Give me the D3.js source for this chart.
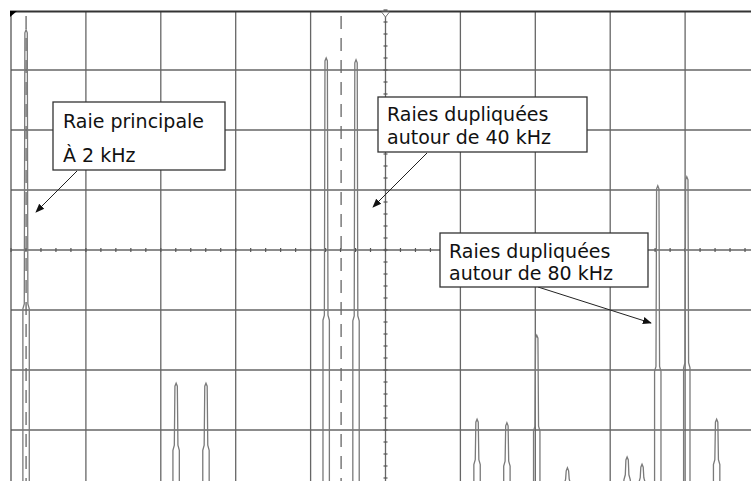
<!DOCTYPE html>
<html>
<head>
<meta charset="utf-8">
<script src="https://cdn.jsdelivr.net/npm/d3@7"></script>
<style>
  html, body { margin: 0; padding: 0; background: #fff; }
  svg { display: block; }
  text { font-family: "DejaVu Sans", Verdana, sans-serif; fill: #111; }
</style>
</head>
<body>
<svg id="svg" width="751" height="481"></svg>
<script>
// spectrum lines (frequency in kHz, amplitude in divisions)
var freqs = [2, 20.1, 23.7, 38.2, 41.8, 56.4, 60.0, 63.6, 67.3, 74.5, 76.3, 78.2, 81.7, 85.3];
var amps = [7.67, 1.78, 1.78, 7.2, 7.17, 1.18, 1.12, 2.58, 0.37, 0.55, 0.43, 5.07, 5.22, 1.18];

// dashed cursors (kHz)
var cursors = [2, 40];

// annotation texts
var noteTexts = [
  ["Raie principale", "À 2 kHz"],
  ["Raies dupliquées", "autour de 40 kHz"],
  ["Raies dupliquées", "autour de 80 kHz"]
];

var svg = d3.select("#svg");
var W = 751, H = 481;

// graticule: 10 x 8 divisions
var gx = d3.scaleLinear().domain([0, 10]).range([11, 760]);
var gy = d3.scaleLinear().domain([0, 8]).range([10, 490]);

// signal scales
var x = d3.scaleLinear().domain([0, 90]).range([9.5, 755.6]);
var y = d3.scaleLinear().domain([0, 8]).range([490, 10]);

var grid = svg.append("g").attr("stroke", "#666").attr("stroke-width", 1.3);

grid.selectAll(".vl")
  .data(d3.range(1, 10))
  .enter().append("line")
  .attr("class", "vl")
  .attr("x1", d => gx(d)).attr("x2", d => gx(d))
  .attr("y1", 11).attr("y2", H);

grid.selectAll(".hl")
  .data(d3.range(1, 8))
  .enter().append("line")
  .attr("class", "hl")
  .attr("x1", 11).attr("x2", W)
  .attr("y1", d => gy(d)).attr("y2", d => gy(d));

// left border
grid.append("line")
  .attr("x1", 11).attr("x2", 11).attr("y1", 11).attr("y2", H)
  .attr("stroke", "#555");

// minor ticks on the centre axes
var ticks = svg.append("g").attr("stroke", "#555").attr("stroke-width", 1.2);
ticks.selectAll(".tx")
  .data(d3.range(0, 50))
  .enter().append("line")
  .attr("x1", d => gx(d / 5)).attr("x2", d => gx(d / 5))
  .attr("y1", gy(4) - 2).attr("y2", gy(4) + 2);
ticks.selectAll(".ty")
  .data(d3.range(0, 40))
  .enter().append("line")
  .attr("y1", d => gy(d / 5)).attr("y2", d => gy(d / 5))
  .attr("x1", gx(5) - 2).attr("x2", gx(5) + 2);

// top border
svg.append("line")
  .attr("x1", 10).attr("x2", W).attr("y1", 11.5).attr("y2", 11.5)
  .attr("stroke", "#333").attr("stroke-width", 2);
svg.append("path")
  .attr("d", "M10,11 L17,11 L10,17 Z")
  .attr("fill", "#000");
svg.append("path")
  .attr("d", "M" + (gx(5) - 4) + ",12 L" + (gx(5) + 4) + ",12 L" + gx(5) + ",17 Z")
  .attr("fill", "#fff").attr("stroke", "#777");

// dashed cursors
svg.selectAll(".cursor")
  .data(cursors)
  .enter().append("line")
  .attr("class", "cursor")
  .attr("x1", d => x(d)).attr("x2", d => x(d))
  .attr("y1", 16).attr("y2", H)
  .attr("stroke", "#666").attr("stroke-width", 1.3)
  .attr("stroke-dasharray", "13,9");

// spectrum lines, drawn as narrow outlines
function peakPath(f, a) {
  var x0 = x(f), yt = y(a), yb = y(0) + 5;
  var ys = yt + 0.6 * (yb - yt);
  return "M" + (x0 - 3.2) + "," + yb +
    " L" + (x0 - 3.2) + "," + ys +
    " L" + (x0 - 1.8) + "," + (ys - 5) +
    " L" + (x0 - 1.2) + "," + (yt + 3) +
    " L" + x0 + "," + yt +
    " L" + (x0 + 1.2) + "," + (yt + 3) +
    " L" + (x0 + 1.8) + "," + (ys - 5) +
    " L" + (x0 + 3.2) + "," + ys +
    " L" + (x0 + 3.2) + "," + yb;
}

svg.append("g").selectAll("path")
  .data(freqs)
  .enter().append("path")
  .attr("d", (d, i) => peakPath(d, amps[i]))
  .attr("fill", "none")
  .attr("stroke", "#7a7a7a")
  .attr("stroke-width", 1.3);

// annotations
var defs = svg.append("defs");
defs.append("marker")
  .attr("id", "arrow")
  .attr("viewBox", "0 0 10 10")
  .attr("refX", 9).attr("refY", 5)
  .attr("markerWidth", 9).attr("markerHeight", 9)
  .attr("markerUnits", "userSpaceOnUse")
  .attr("orient", "auto")
  .append("path")
  .attr("d", "M0,1 L10,5 L0,9 Z")
  .attr("fill", "#111");

var boxes = [
  { x: 53, y: 102, w: 172, h: 68, tx: 63, lines: [128, 162], ax1: 77, ay1: 171, ax2: 36, ay2: 212 },
  { x: 378, y: 97, w: 209, h: 55, tx: 387, lines: [121, 144], ax1: 427, ay1: 153, ax2: 373, ay2: 207 },
  { x: 440, y: 233, w: 208, h: 54, tx: 449, lines: [258, 280], ax1: 538, ay1: 287, ax2: 651, ay2: 323 }
];

boxes.forEach(function (b, i) {
  var g = svg.append("g");
  g.append("line")
    .attr("x1", b.ax1).attr("y1", b.ay1)
    .attr("x2", b.ax2).attr("y2", b.ay2)
    .attr("stroke", "#222").attr("stroke-width", 1)
    .attr("marker-end", "url(#arrow)");
  g.append("rect")
    .attr("x", b.x).attr("y", b.y)
    .attr("width", b.w).attr("height", b.h)
    .attr("fill", "#fff").attr("stroke", "#333").attr("stroke-width", 1.3);
  noteTexts[i].forEach(function (t, j) {
    g.append("text")
      .attr("x", b.tx).attr("y", b.lines[j])
      .style("font-size", "19px")
      .text(t);
  });
});
</script>
</body>
</html>
